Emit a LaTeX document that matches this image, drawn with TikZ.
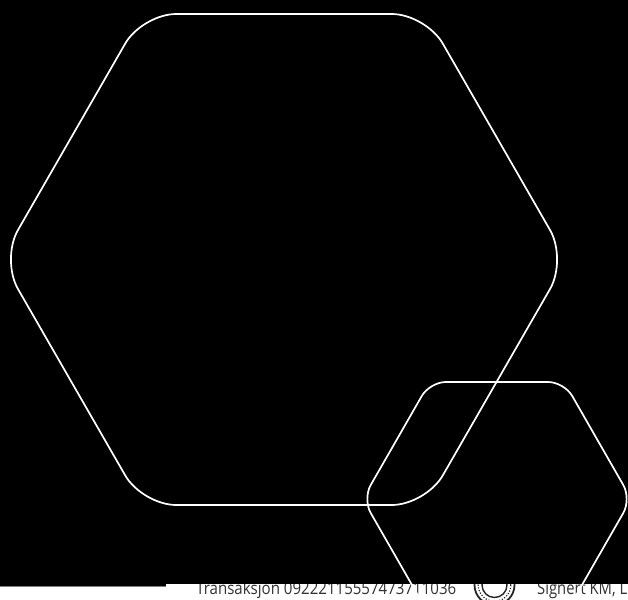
\documentclass[tikz,border=0pt]{standalone}
\usepackage{fontspec}
\setmainfont{Open Sans}
\begin{document}
\begin{tikzpicture}[x=1pt,y=-1pt,
  hexline/.style={draw=white,line width=1.7pt,line join=round},
  foot/.style={inner sep=0pt,anchor=base west,text=black!80}]
\useasboundingbox (0,0) rectangle (628,599);
% footer strip
\fill[white] (0,580) rectangle (628,599);
\node[foot] (trans) at (196,594) {\resizebox{260pt}{13pt}{Transaksjon 09222115557473711036}};
\node[foot] (sign) at (537,594) {\resizebox{90pt}{13pt}{Signert KM, L}};
% seal
\coordinate (seal) at (494.5,585);
\draw[black!85,line width=1.8pt] (seal) circle[radius=20];
\draw[black!85,line width=1.4pt] (seal) circle[radius=12.5];
\draw[black!85,line width=1.2pt,dash pattern=on 1.2pt off 1.6pt] (seal) circle[radius=16.3];
% black page area
\fill[black] (0,0) rectangle (628,584);
\fill[black] (0,584) rectangle (166,586.5);
\draw[gray,line width=0.6pt] (0,586.6) -- (166,586.6);
% big hexagon
\begin{scope}[shift={(284,259.5)}]
\draw[hexline,rounded corners=34pt]
  (0,-245.5) -- (141.75,-245.5) -- (283,0) -- (141.75,245.5) -- (-141.75,245.5)
  -- (-283,0) -- (-141.75,-245.5) -- cycle;
\end{scope}
% small hexagon
\begin{scope}[shift={(497,499)}]
\draw[hexline,rounded corners=16pt]
  (0,-117) -- (67.2,-117) -- (134.3,0) -- (67.2,117) -- (-67.2,117)
  -- (-134.3,0) -- (-67.2,-117) -- cycle;
\end{scope}
\end{tikzpicture}
\end{document}
